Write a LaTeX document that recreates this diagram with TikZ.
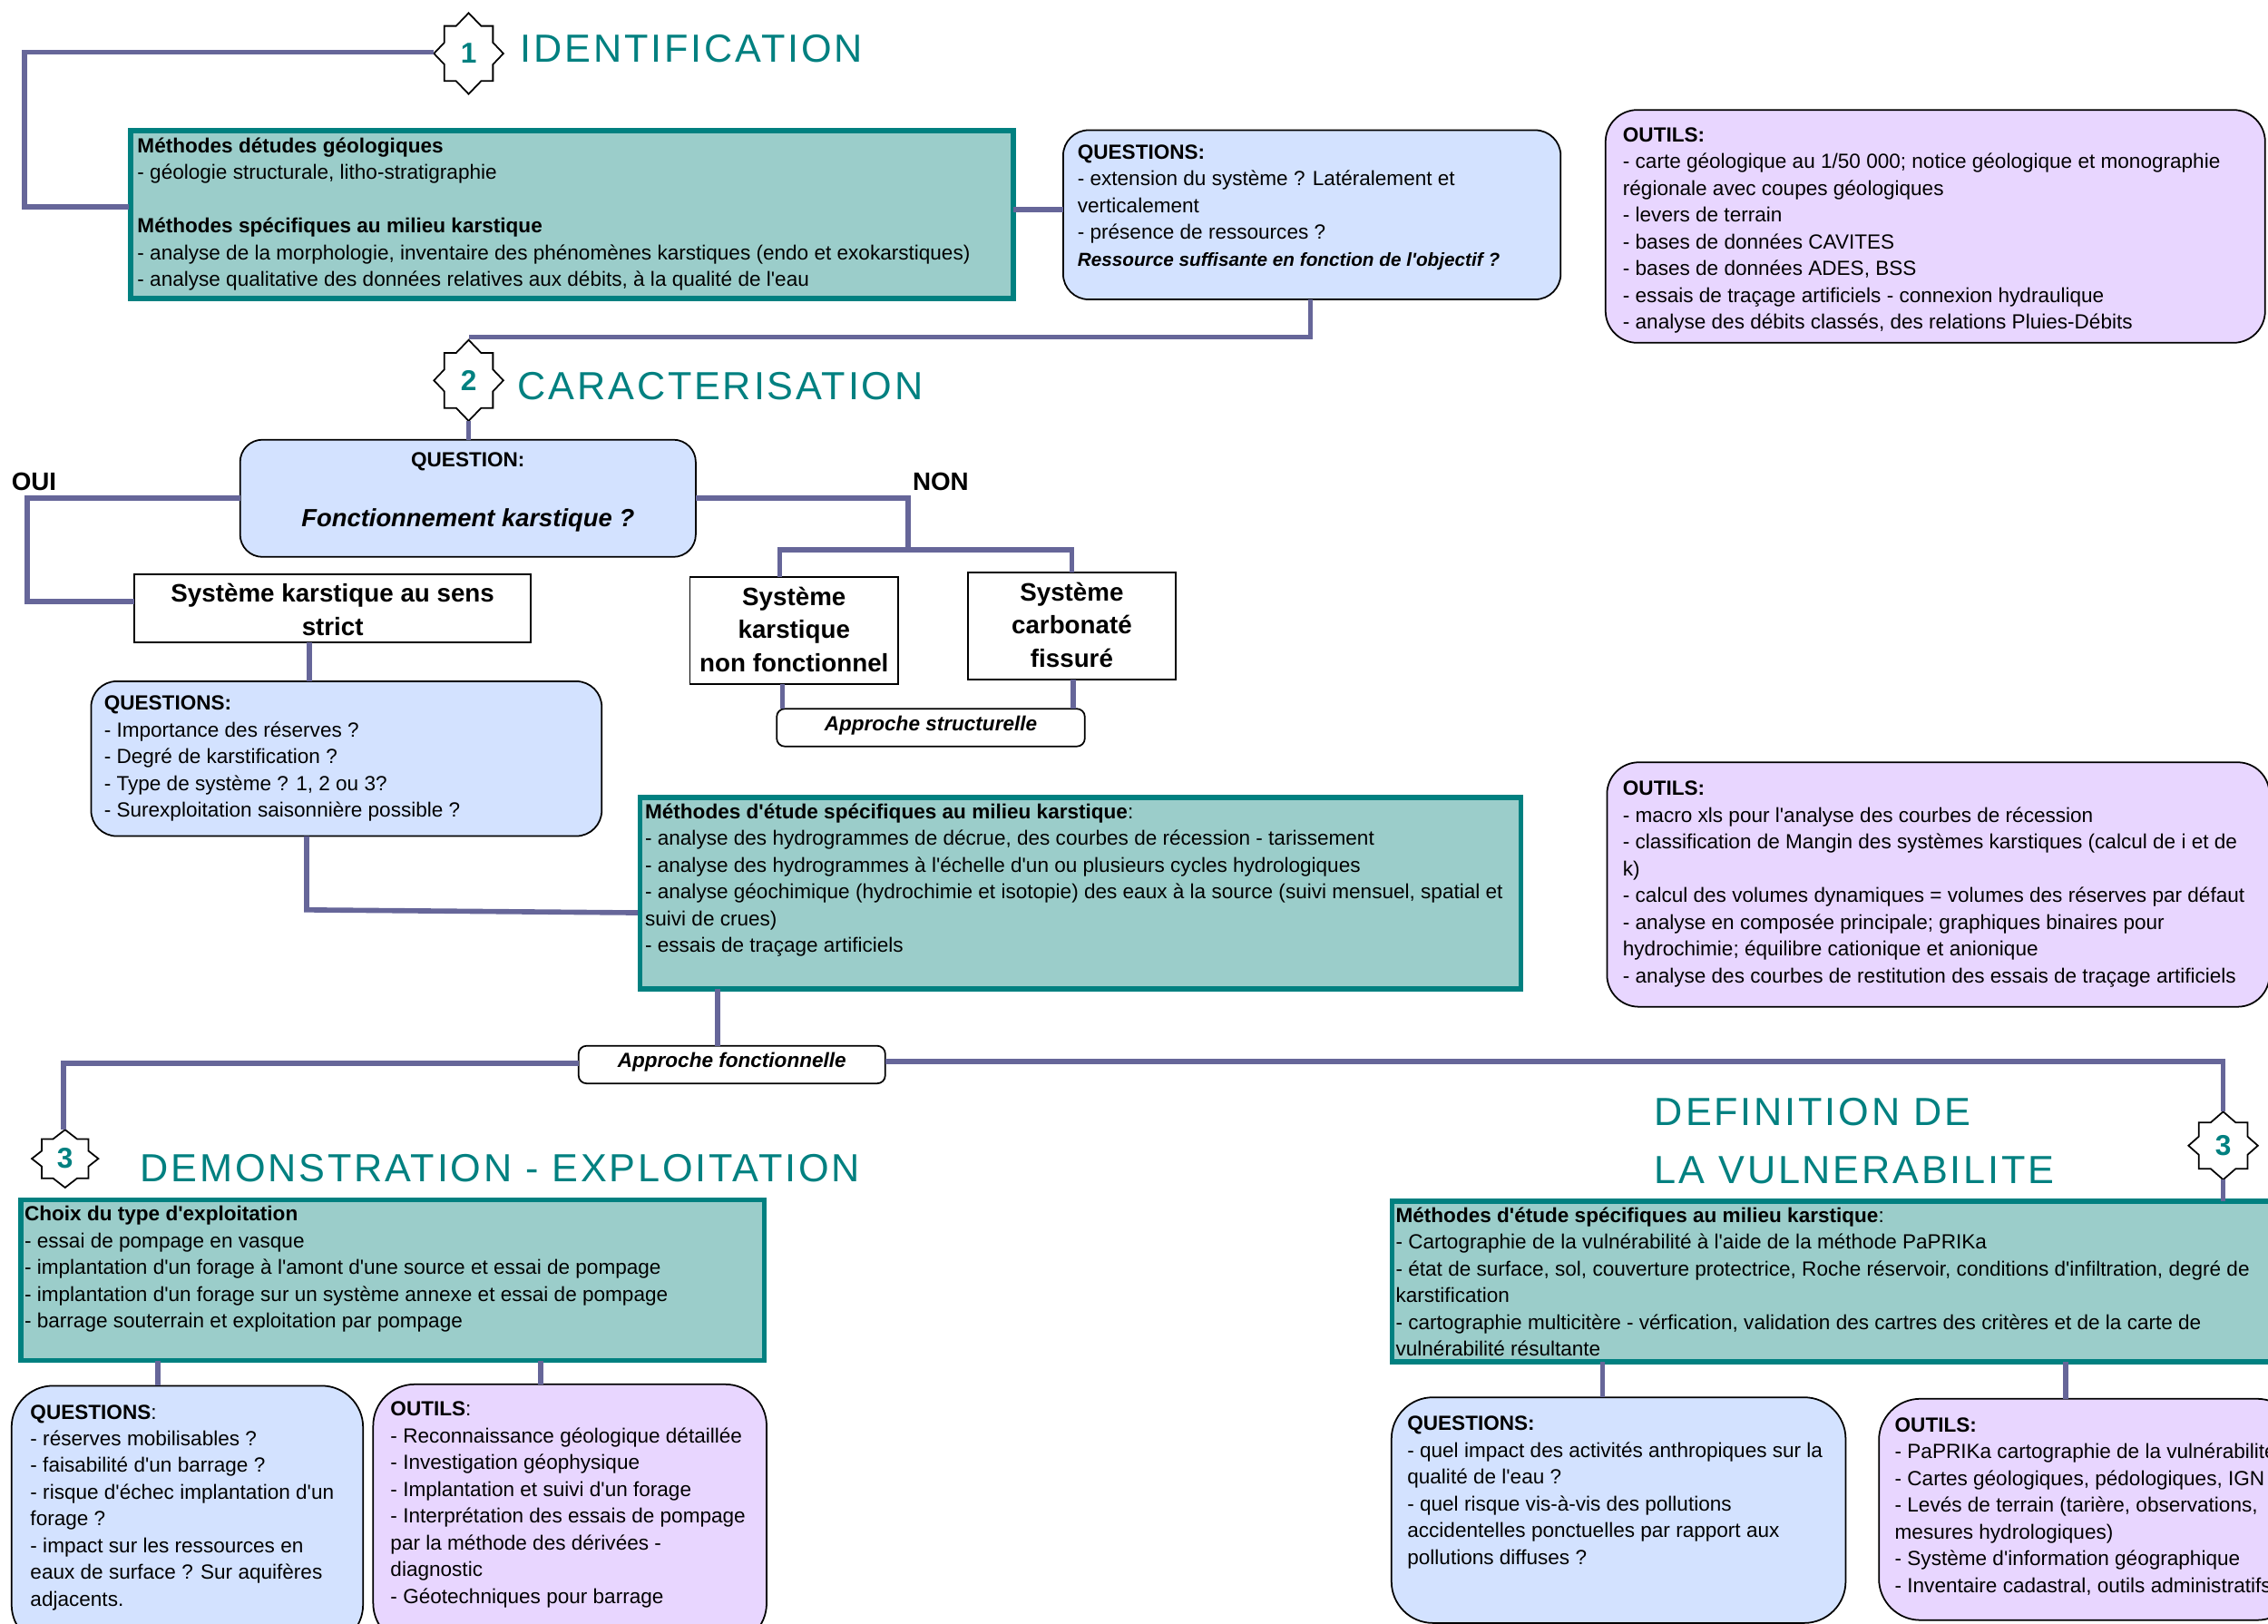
\documentclass[tikz,border=0pt]{standalone}
\usepackage{fontspec}
\setmainfont[Ligatures=TeXOff]{Liberation Sans}
\newfontfamily\titlefont[LetterSpace=6.5,Ligatures=TeXOff]{Liberation Sans}
\usetikzlibrary{positioning}
\definecolor{tealdark}{RGB}{0,128,128}
\definecolor{greenfill}{RGB}{155,205,202}
\definecolor{bluefill}{RGB}{211,226,255}
\definecolor{mauvefill}{RGB}{232,214,255}
\definecolor{linkcol}{RGB}{102,102,153}
\newdimen\unitpx \unitpx=0.015944cm
\newcommand{\boxbody}[5]{\parbox[c][#2\unitpx][t]{#1\unitpx}{\vspace*{#4\unitpx}\raggedright\leftskip=#3\unitpx\relax\strut #5\par}}
\begin{document}
\begin{tikzpicture}[x=0.015944cm, y=-0.015944cm,
    every node/.style={font=\fontsize{6.42}{8.39}\selectfont, inner sep=0pt, outer sep=0pt},
    greenbox/.style={draw=tealdark, line width=1.6pt, fill=greenfill, anchor=north west},
    askbox/.style={draw=black, line width=0.5pt, fill=bluefill, rounded corners=8pt, anchor=north west},
    toolbox/.style={draw=black, line width=0.5pt, fill=mauvefill, rounded corners=10pt, anchor=north west},
    plainbox/.style={draw=black, line width=0.5pt, fill=white, align=center, anchor=north west, font=\bfseries\fontsize{7.9}{10.4}\selectfont},
    tagbox/.style={draw=black, line width=0.5pt, fill=white, rounded corners=2.5pt, anchor=north west, font=\bfseries\itshape\fontsize{6.42}{8.39}\selectfont},
    titletext/.style={anchor=base west, text=tealdark, font=\titlefont\fontsize{12.3}{18}\selectfont},
    bigtext/.style={anchor=base west, font=\bfseries\fontsize{7.9}{9}\selectfont},
    starmark/.style={text=tealdark, font=\bfseries\fontsize{9}{10}\selectfont},
    link/.style={draw=linkcol, line width=1.6pt}]
  \useasboundingbox (0,0) rectangle (1568,1122.7);

  \node[greenbox] (meth1) at (90.5,90.5) {\boxbody{610}{116}{4.5}{2}{\textbf{Méthodes détudes géologiques}\\- géologie structurale, litho-stratigraphie\\[8.39pt]\textbf{Méthodes spécifiques au milieu karstique}\\- analyse de la morphologie, inventaire des phénomènes karstiques (endo et exokarstiques)\\- analyse qualitative des données relatives aux débits, à la qualité de l'eau}};
  \node[askbox] (ask1) at (735,90) {\boxbody{344}{117}{10}{7}{\textbf{QUESTIONS:}\\- extension du système ? Latéralement et\\verticalement\\- présence de ressources ?\\\textbf{\textit{\fontsize{5.9}{8.39}\selectfont Ressource suffisante en fonction de l'objectif ?}}}};
  \node[toolbox] (tool1) at (1110,76) {\boxbody{456}{161}{12}{9}{\textbf{OUTILS:}\\- carte géologique au 1/50 000; notice géologique et monographie\\régionale avec coupes géologiques\\- levers de terrain\\- bases de données CAVITES\\- bases de données ADES, BSS\\- essais de traçage artificiels - connexion hydraulique\\- analyse des débits classés, des relations Pluies-Débits}};

  \node[askbox, rounded corners=7pt] (ask0) at (166,304) {\boxbody{315}{81}{0}{6}{\centering\textbf{QUESTION:}\\[10.4pt]\textbf{\textit{\fontsize{7.8}{10}\selectfont Fonctionnement karstique ?}}}};
  \node[plainbox] (sys1) at (93,397) {\parbox[c][47\unitpx][c]{274\unitpx}{\vspace*{2\unitpx}\centering Système karstique au sens\\strict}};
  \node[plainbox] (sys2) at (477,399) {\parbox[c][74\unitpx][c]{144\unitpx}{\vspace*{-2\unitpx}\centering Système\\karstique\\non fonctionnel}};
  \node[plainbox] (sys3) at (669,396) {\parbox[c][74\unitpx][c]{144\unitpx}{\vspace*{-2\unitpx}\centering Système\\carbonaté\\fissuré}};
  \node[tagbox] (tag1) at (537,490) {\parbox[c][26\unitpx][c]{213\unitpx}{\vspace*{-3\unitpx}\centering Approche structurelle}};
  \node[askbox] (ask2) at (63,471) {\boxbody{353}{107}{9}{7}{\textbf{QUESTIONS:}\\- Importance des réserves ?\\- Degré de karstification ?\\- Type de système ? 1, 2 ou 3?\\- Surexploitation saisonnière possible ?}};
  \node[greenbox] (meth2) at (442.5,551.5) {\boxbody{609}{132}{3.5}{1.5}{\textbf{Méthodes d'étude spécifiques au milieu karstique}:\\- analyse des hydrogrammes de décrue, des courbes de récession - tarissement\\- analyse des hydrogrammes à l'échelle d'un ou plusieurs cycles hydrologiques\\- analyse géochimique (hydrochimie et isotopie) des eaux à la source (suivi mensuel, spatial et\\suivi de crues)\\- essais de traçage artificiels}};
  \node[toolbox] (tool2) at (1111,527) {\boxbody{458}{169}{11}{10}{\textbf{OUTILS:}\\- macro xls pour l'analyse des courbes de récession\\- classification de Mangin des systèmes karstiques (calcul de i et de\\k)\\- calcul des volumes dynamiques = volumes des réserves par défaut\\- analyse en composée principale; graphiques binaires pour\\hydrochimie; équilibre cationique et anionique\\- analyse des courbes de restitution des essais de traçage artificiels}};
  \node[tagbox] (tag2) at (400,723) {\parbox[c][26\unitpx][c]{212\unitpx}{\vspace*{-3\unitpx}\centering Approche fonctionnelle}};

  \node[greenbox] (meth3) at (14.5,829.5) {\boxbody{514}{111}{2.5}{1.5}{\textbf{Choix du type d'exploitation}\\- essai de pompage en vasque\\- implantation d'un forage à l'amont d'une source et essai de pompage\\- implantation d'un forage sur un système annexe et essai de pompage\\- barrage souterrain et exploitation par pompage}};
  \node[askbox, rounded corners=13pt] (ask3) at (8,958) {\boxbody{243}{180}{13}{10}{\textbf{QUESTIONS}:\\- réserves mobilisables ?\\- faisabilité d'un barrage ?\\- risque d'échec implantation d'un\\forage ?\\- impact sur les ressources en\\eaux de surface ? Sur aquifères\\adjacents.}};
  \node[toolbox, rounded corners=13pt] (tool3) at (258,957) {\boxbody{272}{180}{12}{9}{\textbf{OUTILS}:\\- Reconnaissance géologique détaillée\\- Investigation géophysique\\- Implantation et suivi d'un forage\\- Interprétation des essais de pompage\\par la méthode des dérivées -\\diagnostic\\- Géotechniques pour barrage}};

  \node[greenbox] (meth4) at (962.5,830.5) {\boxbody{630}{111}{2.5}{1.5}{\textbf{Méthodes d'étude spécifiques au milieu karstique}:\\- Cartographie de la vulnérabilité à l'aide de la méthode PaPRIKa\\- état de surface, sol, couverture protectrice, Roche réservoir, conditions d'infiltration, degré de\\karstification\\- cartographie multicitère - vérfication, validation des cartres des critères et de la carte de\\vulnérabilité résultante}};
  \node[askbox, rounded corners=13pt] (ask4) at (962,966) {\boxbody{314}{156}{11}{10}{\textbf{QUESTIONS:}\\- quel impact des activités anthropiques sur la\\qualité de l'eau ?\\- quel risque vis-à-vis des pollutions\\accidentelles ponctuelles par rapport aux\\pollutions diffuses ?}};
  \node[toolbox, rounded corners=13pt] (tool4) at (1299,967) {\boxbody{290}{153}{11}{10}{\textbf{OUTILS:}\\- PaPRIKa cartographie de la vulnérabilité\\- Cartes géologiques, pédologiques, IGN\\- Levés de terrain (tarière, observations,\\mesures hydrologiques)\\- Système d'information géographique\\- Inventaire cadastral, outils administratifs}};

  \foreach \nm/\cx/\cy/\wdx/\hty/\num in {num1/324/37/24/28/1, num2/324/263/24/28/2, num3/45/801/23/20/3, num4/1537/792/24/23.5/3}{
    \node[starmark, minimum width=2*\wdx*\unitpx, minimum height=2*\hty*\unitpx] (\nm) at (\cx,\cy) {\num};
    \draw[black, line width=0.5pt, shift={(\cx,\cy)}, xscale=\wdx, yscale=\hty] (0,-1) -- (.36,-.68) -- (.7,-.68) -- (.7,-.27) -- (1,0) -- (.7,.27) -- (.7,.68) -- (.36,.68) -- (0,1) -- (-.36,.68) -- (-.7,.68) -- (-.7,.27) -- (-1,0) -- (-.7,-.27) -- (-.7,-.68) -- (-.36,-.68) -- cycle;
  }

  \node[titletext] (title1) at (360,43) {IDENTIFICATION};
  \node[titletext] (title2) at (358,276) {CARACTERISATION};
  \node[titletext] (title3) at (97,817) {DEMONSTRATION - EXPLOITATION};
  \node[titletext] (title4a) at (1144,778) {DEFINITION DE};
  \node[titletext] (title4b) at (1144,818) {LA VULNERABILITE};
  \node[bigtext] (yes) at (8,339) {OUI};
  \node[bigtext] (no) at (631,339) {NON};

  \coordinate (cornerA) at (17,36);
  \coordinate (cornerB) at (89,143);
  \coordinate (cornerC) at (19,344.5);
  \coordinate (cornerD) at (93,416);
  \coordinate (forkA) at (628,380);
  \coordinate (forkL) at (539,380);
  \coordinate (forkR) at (741,380);
  \coordinate (cornerE) at (212,629);
  \coordinate (cornerF) at (441,631);
  \coordinate (cornerG) at (44,735);
  \coordinate (cornerH) at (1537,734);
  \coordinate (cornerI) at (906,233);
  \draw[link] (num1.west |- cornerA) -- (cornerA) -- (cornerA |- cornerB) -- (cornerB);
  \draw[link] (meth1.east |- 0,145) -- (ask1.west |- 0,145);
  \draw[link] (ask1.south -| cornerI) -- (cornerI) -- (cornerI -| num2.north);
  \draw[link] (num2.south) -- (num2.south |- ask0.north);
  \draw[link] (ask0.west) -- (cornerC) -- (cornerC |- cornerD) -- (cornerD);
  \draw[link] (ask0.east) -| (forkA);
  \draw[link] (sys2.north -| forkL) -- (forkL) -- (forkR) -- (sys3.north -| forkR);
  \foreach \a/\b/\x in {sys2/tag1/541, sys3/tag1/742, sys1/ask2/214, meth2/tag2/496, meth3/ask3/109, meth3/tool3/374, meth4/ask4/1108, meth4/tool4/1428, num4/meth4/1537}{
    \draw[link] (\a.south -| \x,0) -- (\b.north -| \x,0);
  }
  \draw[link] (ask2.south -| cornerE) -- (cornerE) -- (cornerF);
  \draw[link] (tag2.west |- cornerG) -- (cornerG) -- (cornerG |- num3.north);
  \draw[link] (tag2.east |- cornerH) -- (cornerH) -- (num4.north);
\end{tikzpicture}
\end{document}
